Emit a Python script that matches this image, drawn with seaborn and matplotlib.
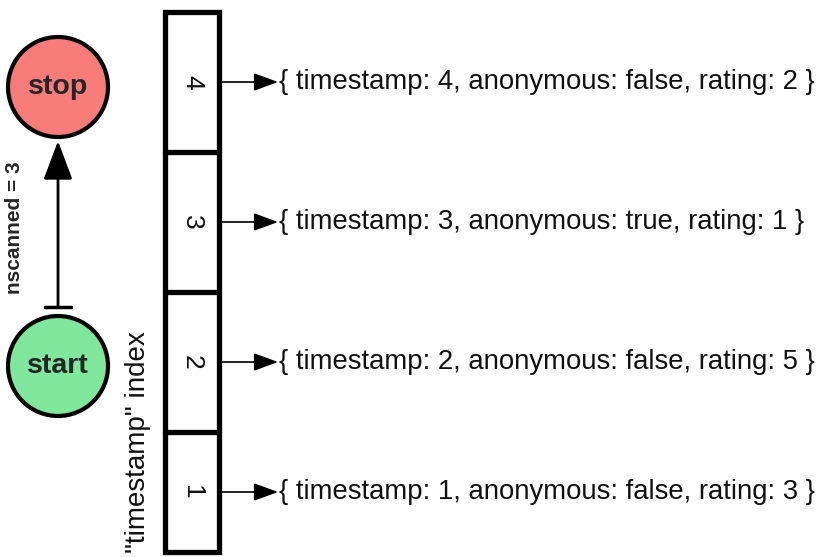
import matplotlib
matplotlib.use("Agg")
import matplotlib.pyplot as plt
import seaborn as sns
from matplotlib.patches import Circle, Rectangle

# data
timestamps = [1, 2, 3, 4]
anonymous = ["false", "false", "true", "false"]
ratings = [3, 5, 1, 2]
nscanned = 3
index_name = "timestamp"

sns.set_theme(style="white")
plt.rcParams["font.family"] = ["Liberation Sans", "DejaVu Sans"]

fig = plt.figure(figsize=(8.24, 5.57), dpi=100)
ax = fig.add_axes([0, 0, 1, 1])
ax.set_xlim(0, 824)
ax.set_ylim(557, 0)
ax.axis("off")

# index box: cells stacked from bottom (1) to top (4)
box_left, box_right = 165, 219
box_top, box_bottom = 12, 552
cell_edges = [552, 432, 292, 152, 12]
ax.add_patch(Rectangle((box_left, box_top), box_right - box_left, box_bottom - box_top,
                       fill=False, lw=3.8, ec="black", zorder=3))
for e in cell_edges[1:-1]:
    ax.plot([box_left, box_right], [e, e], color="black", lw=3.8, zorder=3)

for i, ts in enumerate(timestamps):
    yc = (cell_edges[i] + cell_edges[i + 1]) / 2
    ax.text((box_left + box_right) / 2, yc, str(ts), rotation=-90, ha="center", va="center",
            fontsize=19, color="#111111")
    ax.annotate("", xy=(278, yc), xytext=(box_right, yc),
                arrowprops=dict(arrowstyle="-|>,head_length=1.5,head_width=0.55", color="black",
                                lw=1.2, shrinkA=0, shrinkB=0, mutation_scale=10))
    ax.text(279, yc, "{ timestamp: %d, anonymous: %s, rating: %d }" % (ts, anonymous[i], ratings[i]),
            ha="left", va="center", fontsize=19.8, color="#111111")

ax.text(138, 442, '"%s" index' % index_name, rotation=90, ha="center", va="center",
        fontsize=20, color="#111111")

# start / stop nodes
cx = 58
ax.add_patch(Circle((cx, 87), 50, fc="#f87d7a", ec="black", lw=3, zorder=3))
ax.add_patch(Circle((cx, 366), 50, fc="#80e89c", ec="black", lw=3, zorder=3))
ax.text(cx, 87, "stop", ha="center", va="center", fontsize=20.5, fontweight="bold", zorder=4)
ax.text(cx, 366, "start", ha="center", va="center", fontsize=20.5, fontweight="bold", zorder=4)

ax.annotate("", xy=(cx, 141), xytext=(cx, 307),
            arrowprops=dict(arrowstyle="-|>,head_length=2.4,head_width=0.9",
                            color="black", lw=2, shrinkA=0, shrinkB=0, mutation_scale=10))
ax.plot([cx - 13, cx + 13], [307, 307], color="black", lw=2.5)
ax.text(15, 228, "nscanned = %d" % nscanned, rotation=90, ha="center", va="center",
        fontsize=15, fontweight="bold")

fig.savefig("out.png", dpi=100)
